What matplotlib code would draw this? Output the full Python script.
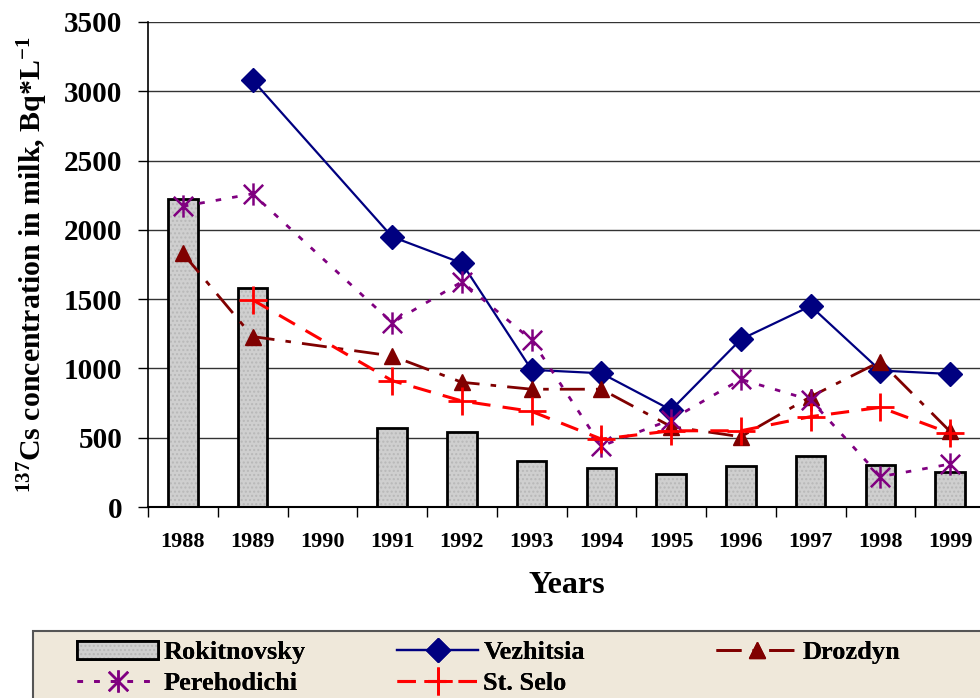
import numpy as np
import matplotlib
matplotlib.use("Agg")
import matplotlib.pyplot as plt
from matplotlib.path import Path
from matplotlib.patches import Rectangle

plt.rcParams["font.family"] = ["Liberation Serif", "DejaVu Serif"]
plt.rcParams["font.weight"] = "bold"
plt.rcParams["mathtext.default"] = "regular"

years = ["1988", "1989", "1990", "1991", "1992", "1993", "1994", "1995", "1996", "1997", "1998", "1999"]
rokitnovsky = [2220, 1580, None, 570, 540, 335, 280, 238, 298, 365, 303, 250]
vezhitsia = [None, 3080, None, 1950, 1760, 990, 965, 700, 1210, 1450, 985, 960]
drozdyn = [1830, 1230, None, 1090, 900, 850, 850, 580, 507, 796, 1050, 545]
perehodichi = [2170, 2260, None, 1330, 1625, 1205, 440, 630, 921, 772, 219, 310]
st_selo = [None, 1495, None, 912, 765, 690, 490, 550, 550, 652, 719, 532]


def pts(vals):
    xs = [i for i, v in enumerate(vals) if v is not None]
    return xs, [vals[i] for i in xs]


# 6-armed asterisk marker (vertical + X)
ast = Path(
    [(0, -1), (0, 1), (-0.87, -0.87), (0.87, 0.87), (-0.87, 0.87), (0.87, -0.87)],
    [Path.MOVETO, Path.LINETO, Path.MOVETO, Path.LINETO, Path.MOVETO, Path.LINETO],
)

fig = plt.figure(figsize=(9.8, 6.98), dpi=100)
ax = fig.add_axes([148 / 980, 191 / 698, 837 / 980, 485 / 698])

x = np.arange(len(years))
bx, by = pts(rokitnovsky)
h_bar = ax.bar(bx, by, width=0.42, color="#cfcfcf", edgecolor="black", linewidth=2,
               hatch="....", zorder=2)
for b in h_bar:
    b._hatch_color = (0.72, 0.72, 0.72, 1)

h_vez, = ax.plot(*pts(vezhitsia), color="#000080", lw=1.6, marker="D", ms=12,
                 mfc="#000080", mec="#000080", zorder=4)
h_dro, = ax.plot(*pts(drozdyn), color="#800000", lw=2, dashes=(9, 4, 2, 4),
                 marker="^", ms=11, mfc="#800000", mec="#800000", zorder=4)
h_per, = ax.plot(*pts(perehodichi), color="#800080", lw=2, dashes=(2, 4),
                 marker=ast, ms=16, mew=1.8, mfc="none", mec="#800080", zorder=4)
h_sts, = ax.plot(*pts(st_selo), color="#ff0000", lw=2.2, dashes=(6, 4),
                 marker="+", ms=20, mew=2, mec="#ff0000", zorder=4)

ax.set_xlim(-0.5, len(years) - 0.5)
ax.set_ylim(0, 3500)
ax.set_yticks(np.arange(0, 3501, 500))
ax.set_yticklabels([str(v) for v in range(0, 3501, 500)], fontsize=21, fontweight="bold")
ax.set_xticks(x)
ax.set_xticklabels(years, fontsize=16, fontweight="bold")
ax.set_xticks(np.arange(-0.5, len(years), 1), minor=True)
ax.tick_params(axis="x", which="major", length=0, pad=18)
ax.tick_params(axis="x", which="minor", length=7, direction="out", width=1)
ax.tick_params(axis="y", length=7.5, direction="out", width=1, pad=11)
ax.yaxis.grid(True, color="#333333", lw=1, zorder=0)
ax.set_axisbelow(True)
for s in ["top", "right"]:
    ax.spines[s].set_visible(False)
ax.spines["left"].set_linewidth(1.2)
ax.spines["bottom"].set_linewidth(1.5)

ax.set_xlabel("Years", fontsize=23, fontweight="bold", labelpad=14)
ax.set_ylabel(r"$^{137}$Cs concentration in milk, Bq*L$^{-1}$", fontsize=21.5,
              fontweight="bold", labelpad=10)

# legend box runs off the right and bottom edges
fig.patches.append(Rectangle((33 / 980, -0.05), 1.0, 0.05 + 67 / 698,
                             transform=fig.transFigure, facecolor="#efe8da",
                             edgecolor="#555555", lw=1.5, zorder=0))

# one legend per column so the columns sit on Excel's fixed grid
columns = [
    (77, [h_bar, h_per], ["Rokitnovsky", "Perehodichi"]),
    (397, [h_vez, h_sts], ["Vezhitsia", "St. Selo"]),
    (716, [h_dro], ["Drozdyn"]),
]
for xpx, hs, labels in columns:
    leg = fig.legend(
        hs, labels, loc="upper left", bbox_to_anchor=(xpx / 980, 1 - 641 / 698),
        fontsize=19, frameon=False, handlelength=3.07, labelspacing=0.28,
        borderpad=0, handletextpad=0.2, borderaxespad=0,
    )
    fig.add_artist(leg)

fig.savefig("out.png", dpi=100)
